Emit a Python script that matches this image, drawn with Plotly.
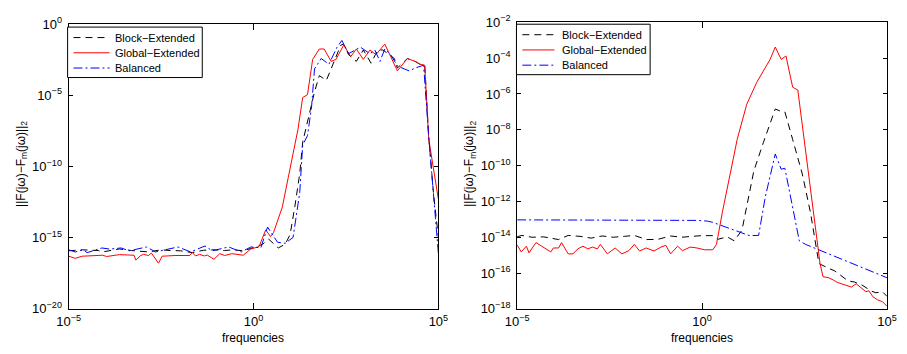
import plotly.graph_objects as go

# ---------------- data (log10 frequency, log10 error) ----------------
# Left panel
L_red_e = [-5.0,-4.82,-4.63,-4.35,-4.08,-3.97,-3.63,-3.23,-3.18,-3.05,-2.97,-2.84,-2.76,-2.57,-2.47,-2.12,-1.73,-1.65,-1.57,-1.46,-1.33,-1.25,-1.07,-0.91,-0.78,-0.59,-0.28,-0.07,0.15,0.33,0.46,0.54,0.78,0.94,1.20,1.33,1.46,1.60,1.78,1.91,2.10,2.23,2.44,2.63,2.78,2.97,3.15,3.31,3.55,3.71,3.89,4.16,4.37,4.50,4.63,4.74,5.0]
L_red_ly = [-16.3,-16.45,-16.3,-16.28,-16.23,-16.32,-16.19,-16.23,-16.57,-16.25,-16.17,-16.25,-16.08,-16.79,-16.3,-16.25,-16.25,-16.05,-16.28,-16.17,-16.28,-16.22,-16.52,-16.12,-16.25,-16.12,-16.23,-15.79,-15.63,-14.45,-14.92,-14.65,-12.84,-10.77,-7.42,-5.15,-4.95,-2.47,-1.74,-1.74,-2.61,-2.47,-1.47,-2.27,-1.74,-2.47,-1.81,-2.14,-1.40,-2.27,-3.28,-2.41,-2.61,-2.81,-2.88,-8.09,-12.31]

L_blk_e = [-5.0,-4.63,-4.2,-4.08,-3.63,-3.3,-2.84,-2.5,-2.25,-1.97,-1.65,-1.35,-1.07,-0.78,-0.55,-0.28,0.07,0.25,0.41,0.67,0.86,0.99,1.12,1.25,1.33,1.52,1.65,1.78,1.97,2.18,2.36,2.44,2.57,2.78,2.97,3.18,3.36,3.50,3.81,3.89,4.16,4.37,4.50,4.63,4.74,4.87,5.0]
L_blk_ly = [-15.92,-15.85,-15.9,-16.0,-15.79,-15.9,-16.0,-15.85,-15.9,-15.92,-16.05,-15.88,-15.85,-15.9,-15.85,-15.92,-15.65,-15.45,-15.1,-15.72,-15.45,-14.78,-12.78,-10.5,-8.29,-6.09,-4.75,-3.61,-3.95,-2.61,-1.47,-1.40,-2.14,-2.61,-1.81,-2.74,-1.81,-1.81,-2.41,-3.08,-2.41,-2.61,-2.81,-2.88,-7.96,-11.97,-14.98]

L_blu_e = [-5.0,-4.82,-4.6,-4.5,-4.1,-3.89,-3.58,-3.36,-2.89,-2.65,-2.04,-1.70,-1.31,-1.12,-0.67,-0.33,-0.07,0.2,0.38,0.65,0.86,1.07,1.25,1.33,1.46,1.57,1.65,1.83,2.04,2.26,2.39,2.57,2.89,3.15,3.28,3.42,3.55,3.71,3.89,4.21,4.37,4.60,4.74,4.87,5.0]
L_blu_ly = [-15.85,-16.0,-15.85,-16.05,-15.72,-15.8,-15.72,-15.92,-15.65,-16.0,-15.65,-16.0,-15.58,-15.92,-15.65,-16.0,-15.65,-15.7,-14.25,-15.32,-15.39,-14.98,-11.84,-8.49,-7.83,-5.82,-3.14,-2.41,-2.81,-1.61,-1.14,-2.07,-1.61,-2.07,-1.81,-2.61,-1.74,-2.14,-2.94,-3.28,-3.08,-2.88,-7.96,-12.31,-16.12]

# Right panel
R_red_e = [-5.0,-4.89,-4.75,-4.68,-4.49,-4.28,-4.09,-4.02,-3.88,-3.80,-3.62,-3.49,-3.36,-3.22,-3.09,-2.96,-2.83,-2.75,-2.56,-2.35,-2.17,-1.98,-1.83,-1.69,-1.51,-1.30,-1.11,-0.98,-0.85,-0.66,-0.53,-0.32,-0.14,0.07,0.29,0.39,0.55,0.95,1.21,1.48,1.84,1.98,2.14,2.27,2.45,2.59,3.19,3.27,3.42,3.56,3.64,3.77,3.90,4.04,4.17,4.30,4.43,4.51,4.62,4.75,4.88,5.0]
R_red_ly = [-14.43,-14.82,-14.5,-14.87,-14.3,-14.55,-14.82,-14.6,-14.6,-14.3,-14.93,-14.93,-14.65,-14.5,-14.65,-14.55,-14.65,-14.4,-14.93,-14.6,-14.93,-14.75,-14.4,-14.77,-14.6,-14.77,-14.55,-14.45,-14.93,-14.5,-14.75,-14.55,-14.6,-14.7,-14.7,-14.4,-12.6,-8.54,-6.57,-5.35,-4.07,-3.38,-4.07,-3.88,-5.62,-5.78,-15.46,-16.2,-16.26,-16.4,-16.5,-16.6,-16.68,-16.78,-16.6,-16.8,-17.04,-16.99,-17.32,-17.5,-17.6,-17.85]

R_blk_e = [-5.0,-4.87,-4.6,-4.28,-3.88,-3.62,-3.3,-3.0,-2.7,-2.4,-2.1,-1.83,-1.5,-1.2,-0.85,-0.55,-0.25,-0.02,0.29,0.42,0.68,0.87,1.08,1.40,1.66,1.98,2.11,2.24,2.45,2.71,2.93,3.16,3.19,3.33,3.46,3.59,3.77,3.95,4.12,4.35,4.57,4.70,4.88,5.0]
R_blk_ly = [-13.97,-13.9,-14.0,-13.98,-14.13,-13.9,-13.95,-14.05,-13.93,-14.0,-13.95,-13.9,-14.13,-14.12,-13.93,-14.0,-13.95,-13.91,-13.91,-14.12,-13.98,-14.2,-13.6,-10.3,-8.7,-6.84,-6.95,-7.0,-8.54,-10.46,-12.6,-15.46,-15.5,-15.65,-15.77,-15.88,-16.14,-16.44,-16.5,-16.7,-17.0,-17.1,-17.05,-17.3]

R_blu_e = [-5.0,-4.0,-3.0,-2.0,-1.0,-0.14,0.15,0.29,1.0,1.27,1.53,1.71,1.98,2.14,2.24,2.45,2.63,2.80,2.98,5.0]
R_blu_ly = [-13.03,-13.03,-13.03,-13.03,-13.03,-13.06,-13.1,-13.17,-13.7,-13.9,-13.9,-11.75,-9.35,-10.2,-10.15,-12.27,-14.2,-14.4,-14.55,-16.26]

series_names = ["Block−Extended", "Global−Extended", "Balanced"]
x_tick_exp = [-5, 0, 5]
left_y_tick_exp = [0, -5, -10, -15, -20]
right_y_tick_exp = [-2, -4, -6, -8, -10, -12, -14, -16, -18]
y_label = "||F(jω)−F<sub>m</sub>(jω)||<sub>2</sub>"
x_label = "frequencies"

# ---------------- figure ----------------
W, H = 907, 354
FONT = "Liberation Sans, Arial, Helvetica, sans-serif"


def pw(v):
    return [10 ** t for t in v]


def tick_txt(e):
    s = str(e).replace("-", "−")
    return "10<sup>" + s + "</sup>"


styles = {
    "Block−Extended": dict(color="black", width=1, dash="7px,5px"),
    "Global−Extended": dict(color="red", width=1, dash="solid"),
    "Balanced": dict(color="blue", width=1, dash="9px,3px,2px,3px"),
}

fig = go.Figure()
left = [(L_blk_e, L_blk_ly), (L_red_e, L_red_ly), (L_blu_e, L_blu_ly)]
right = [(R_blk_e, R_blk_ly), (R_red_e, R_red_ly), (R_blu_e, R_blu_ly)]
for name, (xe, ye) in zip(series_names, left):
    fig.add_trace(go.Scatter(x=pw(xe), y=pw(ye), mode="lines", name=name,
                             line=styles[name], xaxis="x", yaxis="y", showlegend=False))
for name, (xe, ye) in zip(series_names, right):
    fig.add_trace(go.Scatter(x=pw(xe), y=pw(ye), mode="lines", name=name,
                             line=styles[name], xaxis="x2", yaxis="y2", showlegend=False))

axis_common = dict(type="log", showgrid=False, zeroline=False, showline=True,
                   linecolor="black", linewidth=1, mirror="ticks", ticks="inside",
                   tickcolor="black", tickfont=dict(family=FONT, size=13, color="black"))

x0L, x1L = 58 / W, 437 / W
x0R, x1R = 517.7 / W, 896.7 / W
yb = 1 - 315 / H

fig.update_layout(
    width=W, height=H, margin=dict(l=0, r=0, t=0, b=0),
    paper_bgcolor="white", plot_bgcolor="white",
    font=dict(family=FONT, size=12, color="black"),
    showlegend=False,
    xaxis=dict(axis_common, domain=[x0L, x1L], range=[-5, 5], anchor="y",
               tickvals=pw(x_tick_exp), ticktext=[tick_txt(e) for e in x_tick_exp],
               ticklen=6, ticklabelstandoff=1),
    yaxis=dict(axis_common, domain=[yb, 1 - 16 / H], range=[-20, 0], anchor="x",
               tickvals=pw(left_y_tick_exp), ticktext=[tick_txt(e) for e in left_y_tick_exp],
               ticklen=4, ticklabelstandoff=3),
    xaxis2=dict(axis_common, domain=[x0R, x1R], range=[-5, 5], anchor="y2",
                tickvals=pw(x_tick_exp), ticktext=[tick_txt(e) for e in x_tick_exp],
                ticklen=6, ticklabelstandoff=1),
    yaxis2=dict(axis_common, domain=[yb, 1 - 14 / H], range=[-18, -2], anchor="x2",
                tickvals=pw(right_y_tick_exp), ticktext=[tick_txt(e) for e in right_y_tick_exp],
                ticklen=4, ticklabelstandoff=3),
)

# axis titles
annotations = [
    dict(text=x_label, x=(x0L + x1L) / 2, y=1 - 346 / H),
    dict(text=x_label, x=(x0R + x1R) / 2, y=1 - 346 / H),
    dict(text=y_label, x=10 / W, y=1 - 163 / H, textangle=-90),
    dict(text=y_label, x=470 / W, y=1 - 163 / H, textangle=-90),
]
for a in annotations:
    fig.add_annotation(xref="paper", yref="paper", showarrow=False,
                       xanchor="center", yanchor="middle",
                       font=dict(family=FONT, size=12, color="black"), **a)

# legends (one boxed legend per panel, MATLAB style)
legend_boxes = [
    dict(box=(57, 19, 195, 72), line=(63, 100), text_x=103, rows=(30, 46, 62)),
    dict(box=(517, 16, 654, 69), line=(523, 556), text_x=562, rows=(27, 43, 59)),
]
for lg in legend_boxes:
    bx0, by0, bx1, by1 = lg["box"]
    fig.add_shape(type="rect", xref="paper", yref="paper",
                  x0=bx0 / W, x1=bx1 / W, y0=1 - by0 / H, y1=1 - by1 / H,
                  line=dict(color="black", width=1), fillcolor="white", layer="above")
    for name, ry in zip(series_names, lg["rows"]):
        st = styles[name]
        fig.add_shape(type="line", xref="paper", yref="paper",
                      x0=lg["line"][0] / W, x1=lg["line"][1] / W,
                      y0=1 - ry / H, y1=1 - ry / H, layer="above",
                      line=dict(color=st["color"], width=st["width"], dash=st["dash"]))
        fig.add_annotation(xref="paper", yref="paper", showarrow=False,
                           x=lg["text_x"] / W, y=1 - ry / H, xanchor="left", yanchor="middle",
                           text=name, font=dict(family=FONT, size=11, color="black"))

fig.write_html("out.html")
